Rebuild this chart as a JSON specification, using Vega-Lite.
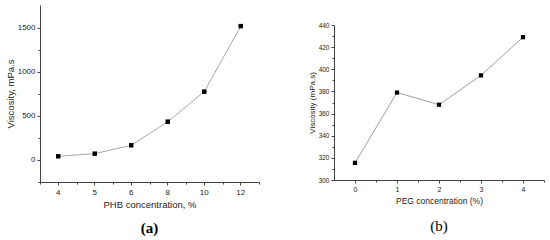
{
  "$schema": "https://vega.github.io/schema/vega-lite/v6.json",
  "padding": {"left": 5, "top": 5, "right": 0, "bottom": 0},
  "background": "white",
  "config": {
    "view": {"stroke": null},
    "font": "Liberation Sans",
    "axis": {"grid": false, "labelColor": "#222", "titleColor": "#222", "domainColor": "#444", "tickColor": "#444", "titleFontWeight": "normal", "labelFont": "Liberation Sans", "titleFont": "Liberation Sans", "domainWidth": 1, "tickWidth": 1}
  },
  "spacing": 48,
  "hconcat": [
    {
      "width": 219,
      "height": 177,
      "data": {"values": [
        {"phb": 4, "viscosity": 42},
        {"phb": 5, "viscosity": 72},
        {"phb": 6, "viscosity": 167},
        {"phb": 8, "viscosity": 435},
        {"phb": 10, "viscosity": 776},
        {"phb": 12, "viscosity": 1520}
      ]},
      "title": {"text": "(a)", "orient": "bottom", "font": "Liberation Serif", "fontSize": 15, "fontWeight": "bold", "color": "#000", "offset": 12},
      "resolve": {"axis": {"x": "independent", "y": "independent"}},
      "layer": [
        {
          "mark": {"type": "line", "color": "#a8a8a8", "strokeWidth": 1},
          "encoding": {
            "x": {"field": "phb", "type": "ordinal", "scale": {"type": "band", "paddingInner": 0, "paddingOuter": 0},
              "axis": {"orient": "bottom", "title": "PHB concentration, %", "labelAngle": 0, "labelFontSize": 8, "titleFontSize": 9.5, "tickSize": 3, "labelPadding": 3, "titlePadding": 3}},
            "y": {"field": "viscosity", "type": "quantitative", "scale": {"domain": [-250, 1760], "nice": false, "zero": false},
              "axis": {"orient": "left", "title": "Viscosity, mPa.s", "values": [0, 500, 1000, 1500], "format": "d", "labelFontSize": 8, "titleFontSize": 9.5, "tickSize": 3, "labelPadding": 2, "titlePadding": 2}}
          }
        },
        {
          "mark": {"type": "square", "size": 20, "color": "#000", "opacity": 1},
          "encoding": {
            "x": {"field": "phb", "type": "ordinal",
              "axis": {"orient": "bottom", "title": null, "labels": false, "domain": false, "tickBand": "extent", "tickSize": 2}},
            "y": {"field": "viscosity", "type": "quantitative",
              "axis": {"orient": "left", "title": null, "labels": false, "domain": false, "values": [-250, 250, 750, 1250], "tickSize": 2}}
          }
        }
      ]
    },
    {
      "spacing": 16,
      "vconcat": [
        {
          "width": 210,
          "height": 1,
          "data": {"values": []},
          "mark": "rule",
          "encoding": {}
        },
        {
          "width": 210,
          "height": 155,
          "data": {"values": [
            {"peg": 0, "viscosity": 315.5},
            {"peg": 1, "viscosity": 379},
            {"peg": 2, "viscosity": 368},
            {"peg": 3, "viscosity": 394.5},
            {"peg": 4, "viscosity": 429}
          ]},
          "title": {"text": "(b)", "orient": "bottom", "font": "Liberation Serif", "fontSize": 15, "fontWeight": "normal", "color": "#000", "offset": 14},
          "resolve": {"axis": {"x": "independent", "y": "independent"}},
          "layer": [
            {
              "mark": {"type": "line", "color": "#a0a0a0", "strokeWidth": 1},
              "encoding": {
                "x": {"field": "peg", "type": "quantitative", "scale": {"domain": [-0.5, 4.5], "nice": false, "zero": false},
                  "axis": {"orient": "bottom", "title": "PEG concentration (%)", "values": [0, 1, 2, 3, 4], "format": "d", "labelFontSize": 7, "titleFontSize": 8.5, "tickSize": 3, "labelPadding": 2, "titlePadding": 4}},
                "y": {"field": "viscosity", "type": "quantitative", "scale": {"domain": [300, 440], "nice": false, "zero": false},
                  "axis": {"orient": "left", "title": "Viscosity (mPa.s)", "values": [300, 320, 340, 360, 380, 400, 420, 440], "labelFontSize": 6.5, "titleFontSize": 8, "tickSize": 3, "labelPadding": 2, "titlePadding": 2}}
              }
            },
            {
              "mark": {"type": "square", "size": 18, "color": "#000", "opacity": 1},
              "encoding": {
                "x": {"field": "peg", "type": "quantitative",
                  "axis": {"orient": "bottom", "title": null, "labels": false, "domain": false, "values": [0.5, 1.5, 2.5, 3.5, 4.5], "tickSize": 2}},
                "y": {"field": "viscosity", "type": "quantitative",
                  "axis": {"orient": "left", "title": null, "labels": false, "domain": false, "values": [310, 330, 350, 370, 390, 410, 430], "tickSize": 2}}
              }
            }
          ]
        }
      ]
    }
  ]
}
